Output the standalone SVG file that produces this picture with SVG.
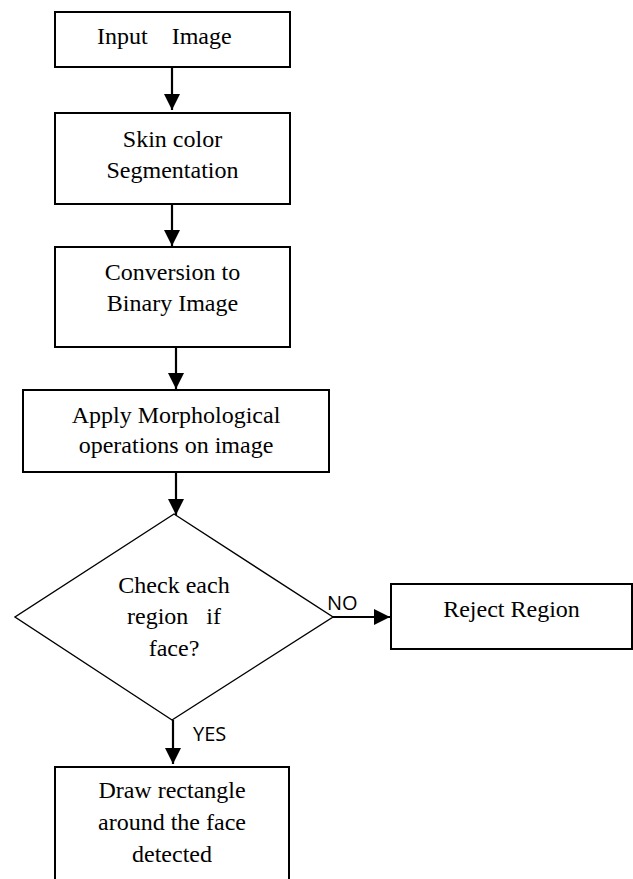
<svg xmlns="http://www.w3.org/2000/svg" width="633" height="879" viewBox="0 0 633 879">
<style>
.box{fill:#fff;stroke:#000;stroke-width:2}
.dia{fill:#fff;stroke:#000;stroke-width:1.4}
.t{font-family:"Liberation Serif","Times New Roman",serif;font-size:24px;fill:#000;text-anchor:middle}
.ts{font-family:"Liberation Serif","Times New Roman",serif;font-size:24px;fill:#000;white-space:pre}
.lab{font-family:"Open Sans","Liberation Sans",sans-serif;font-size:20px;fill:#000}
.conn{stroke:#000;stroke-width:2.2;fill:none}
</style>
<defs>
<marker id="ah" markerUnits="userSpaceOnUse" markerWidth="16" markerHeight="16" viewBox="0 0 16 16" refX="16" refY="8" orient="auto">
<path d="M0,0 L16,8 L0,16 Z" fill="#000"/>
</marker>
</defs>
<rect width="633" height="879" fill="#fff"/>
<g id="connectors">
<line class="conn" x1="172" y1="67" x2="172" y2="110" marker-end="url(#ah)"/>
<line class="conn" x1="172" y1="204" x2="172" y2="246" marker-end="url(#ah)"/>
<line class="conn" x1="176" y1="347" x2="176" y2="389" marker-end="url(#ah)"/>
<line class="conn" x1="176" y1="472" x2="176" y2="515" marker-end="url(#ah)"/>
<line class="conn" x1="333" y1="617" x2="390" y2="617" marker-end="url(#ah)"/>
<line class="conn" x1="173" y1="720" x2="173" y2="764" marker-end="url(#ah)"/>
<text class="lab" x="327" y="610">NO</text>
<text class="lab" x="193" y="741">YES</text>
</g>
<g id="node-input">
<rect class="box" x="55" y="12" width="235" height="55"/>
<text class="ts" x="97" y="44">Input    Image</text>
</g>
<g id="node-skin">
<rect class="box" x="55" y="113" width="235" height="91"/>
<text class="t" x="172.5" y="147">Skin color</text>
<text class="t" x="172.5" y="178">Segmentation</text>
</g>
<g id="node-binary">
<rect class="box" x="55" y="247" width="235" height="100"/>
<text class="t" x="172.5" y="280">Conversion to</text>
<text class="t" x="172.5" y="311">Binary Image</text>
</g>
<g id="node-morph">
<rect class="box" x="23" y="390" width="306" height="82"/>
<text class="t" x="176" y="423">Apply Morphological</text>
<text class="t" x="176" y="453">operations on image</text>
</g>
<g id="node-check">
<polygon class="dia" points="174,514 333,617 172,720 15,617"/>
<text class="t" x="174" y="593">Check each</text>
<text class="ts" x="127" y="624">region   if</text>
<text class="t" x="174" y="656">face?</text>
</g>
<g id="node-reject">
<rect class="box" x="391" y="584" width="241" height="65"/>
<text class="t" x="511.5" y="617">Reject Region</text>
</g>
<g id="node-draw">
<rect class="box" x="55" y="767" width="234" height="125"/>
<text class="t" x="172" y="798">Draw rectangle</text>
<text class="t" x="172" y="830">around the face</text>
<text class="t" x="172" y="862">detected</text>
</g>
</svg>
